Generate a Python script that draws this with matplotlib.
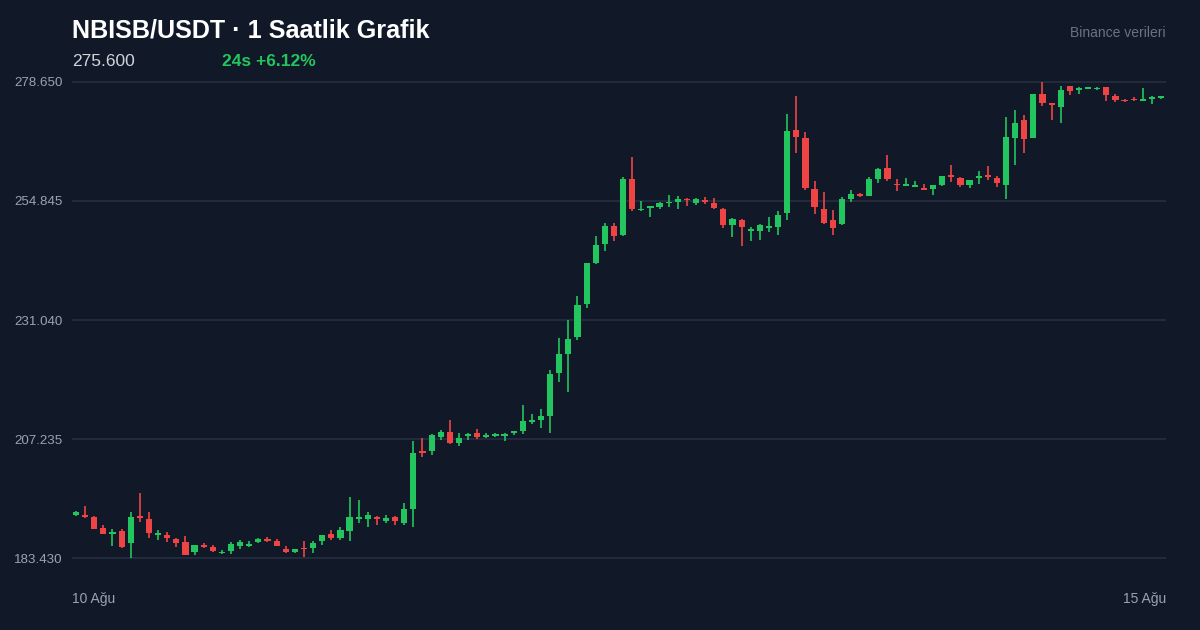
import matplotlib
matplotlib.use("Agg")
import matplotlib.pyplot as plt
import numpy as np

opens = [191.96,192.03,191.56,189.43,188.23,188.90,186.36,191.76,191.16,188.03,188.10,187.16,186.63,184.63,186.03,185.56,184.36,184.83,185.90,185.90,186.56,187.30,186.83,185.30,184.70,185.43,185.36,186.76,188.23,187.43,188.90,191.23,191.23,191.70,190.83,191.70,190.36,193.30,
 204.83,204.83,207.70,208.63,206.36,207.76,208.36,207.70,207.83,207.90,208.36,208.90,210.63,211.03,211.76,220.36,224.23,227.56,234.16,242.36,246.23,249.83,248.03,259.30,252.96,253.36,253.70,254.36,254.70,255.30,254.50,254.96,254.50,253.23,250.10,251.03,
 248.90,248.90,249.43,249.56,252.36,269.03,267.43,257.23,253.23,251.03,250.23,255.30,256.16,255.90,259.16,261.43,258.30,257.90,257.70,257.43,257.23,257.96,260.03,259.43,257.96,259.43,260.03,259.43,258.10,267.50,270.96,267.43,276.30,274.30,273.63,277.83,276.96,277.23,277.16,277.63,275.76,275.03,275.30,274.90,275.16,275.43]
closes = [192.70,191.63,189.30,188.23,188.50,185.70,191.56,191.36,188.50,188.36,187.50,186.43,184.10,185.96,185.56,184.83,184.70,186.23,186.63,186.30,187.30,186.83,185.83,184.56,185.16,185.16,186.50,187.96,187.36,189.10,191.56,191.43,192.03,191.30,191.43,190.83,193.16,204.50,
 204.50,208.03,208.63,206.50,207.36,208.16,207.70,208.10,208.30,208.23,208.76,210.83,211.10,211.83,220.16,224.30,227.30,234.10,242.36,246.03,249.83,247.90,259.16,253.16,253.30,253.76,254.36,254.63,255.23,254.96,255.23,254.70,253.43,250.10,251.16,249.70,
 249.30,250.10,249.70,252.03,268.83,267.56,257.36,253.63,250.36,249.50,255.16,256.16,255.83,259.23,261.30,259.30,257.96,258.16,257.96,257.03,258.03,259.76,259.56,258.10,259.03,259.70,259.70,258.43,267.56,270.50,267.23,276.23,274.50,274.03,277.03,276.76,277.36,277.56,277.50,275.96,275.10,274.76,274.96,275.16,275.56,275.76]
highs = [192.90,193.83,191.76,190.03,189.16,189.16,192.56,196.36,192.63,188.96,188.56,187.50,187.83,186.10,186.36,186.03,185.03,186.63,187.03,186.83,187.43,187.56,187.23,185.76,185.23,186.76,186.83,188.10,188.96,189.63,195.70,195.03,192.70,191.83,191.96,191.90,194.43,206.90,
 207.43,208.16,209.03,211.03,208.36,208.43,209.23,208.36,208.50,208.36,208.83,213.96,212.16,213.23,221.03,227.50,231.03,235.83,242.50,247.83,250.50,250.50,259.70,263.70,254.83,253.76,254.63,256.03,255.83,255.50,255.43,255.63,255.43,253.36,251.43,251.16,
 249.56,250.30,251.56,252.83,272.23,275.83,268.63,258.83,256.63,253.03,255.56,257.03,256.36,259.56,261.36,263.96,259.23,259.43,258.76,258.16,258.03,259.83,261.96,259.70,259.10,260.83,261.76,259.83,271.56,273.03,272.03,276.23,278.63,274.50,277.83,277.90,277.63,277.63,277.56,277.70,276.16,275.16,275.56,277.50,275.90,275.90]
lows = [191.76,191.50,189.23,188.16,185.90,185.50,183.50,190.56,187.43,186.96,186.63,185.63,184.10,184.03,185.50,184.63,184.30,184.30,185.30,185.63,186.50,186.70,185.76,184.50,184.43,183.63,184.50,186.10,187.10,187.10,186.90,190.50,189.56,189.96,190.50,190.03,190.10,189.70,
 203.56,204.10,207.10,206.16,205.90,207.10,207.23,207.36,207.70,206.83,208.10,208.30,210.30,209.50,208.50,218.56,216.70,227.03,233.36,242.23,244.90,246.76,247.83,252.90,252.76,251.63,253.30,253.63,253.16,253.90,254.10,254.30,253.30,249.36,247.70,245.83,
 246.90,247.10,248.70,248.10,251.03,264.36,257.03,252.30,250.23,248.10,250.03,254.70,255.70,255.83,258.50,258.76,256.90,257.90,257.70,256.96,255.96,257.90,258.70,257.63,257.50,258.30,259.10,257.70,255.16,262.03,264.43,267.43,273.90,271.10,270.50,276.10,276.30,277.16,276.96,274.90,274.56,274.70,274.83,274.90,274.23,275.30]

yticks = [183.430, 207.235, 231.040, 254.845, 278.650]
ytick_labels = ["183.430", "207.235", "231.040", "254.845", "278.650"]
date_labels = ["10 Ağu", "15 Ağu"]
title = "NBISB/USDT · 1 Saatlik Grafik"
last_price = "275.600"
change_text = "24s +6.12%"
source_text = "Binance verileri"

BG = "#111827"
GREEN = "#22c55e"
RED = "#ef4444"
GRID = "#253041"
plt.rcParams['font.family'] = ['Liberation Sans', 'DejaVu Sans']

fig = plt.figure(figsize=(12, 6.3), dpi=100, facecolor=BG)
ax = fig.add_axes([0.06, 0.0952, 0.9117, 0.7937], facecolor=BG)

o = np.array(opens); c = np.array(closes); h = np.array(highs); l = np.array(lows)
x = np.arange(len(o))
cols = np.where(c >= o, GREEN, RED)
ax.vlines(x, l, h, colors=cols, linewidth=1.2, zorder=3)
bottom = np.minimum(o, c)
height = np.maximum(np.abs(c - o), 0.35)
ax.bar(x, height, bottom=bottom, width=0.68, color=cols, zorder=4, linewidth=0)

ax.set_xlim(-0.44, len(o) - 1 + 0.55)
ax.set_ylim(181.03, 281.05)
for yt in yticks:
    ax.axhline(yt, color=GRID, linewidth=1.2, zorder=1)
ax.set_yticks(yticks)
ax.set_yticklabels(ytick_labels, color="#9ca3af", fontsize=9.6)
ax.tick_params(axis='y', length=0, pad=7)
ax.set_xticks([])
for s in ax.spines.values():
    s.set_visible(False)

fig.text(72/1200, 1-599/630, date_labels[0], color="#9ca3af", fontsize=10, ha="left", va="center")
fig.text(1166/1200, 1-599/630, date_labels[1], color="#9ca3af", fontsize=10, ha="right", va="center")
fig.text(72/1200, 1-30/630, title, color="white", fontsize=18.1, fontweight="bold", ha="left", va="center")
fig.text(72/1200, 1-61/630, last_price, color="#d1d5db", fontsize=12.5, ha="left", va="center")
fig.text(222/1200, 1-61/630, change_text, color=GREEN, fontsize=12.5, fontweight="bold", ha="left", va="center")
fig.text(1166/1200, 1-33/630, source_text, color="#6b7280", fontsize=10, ha="right", va="center")

fig.savefig("out.png", dpi=100, facecolor=BG)
